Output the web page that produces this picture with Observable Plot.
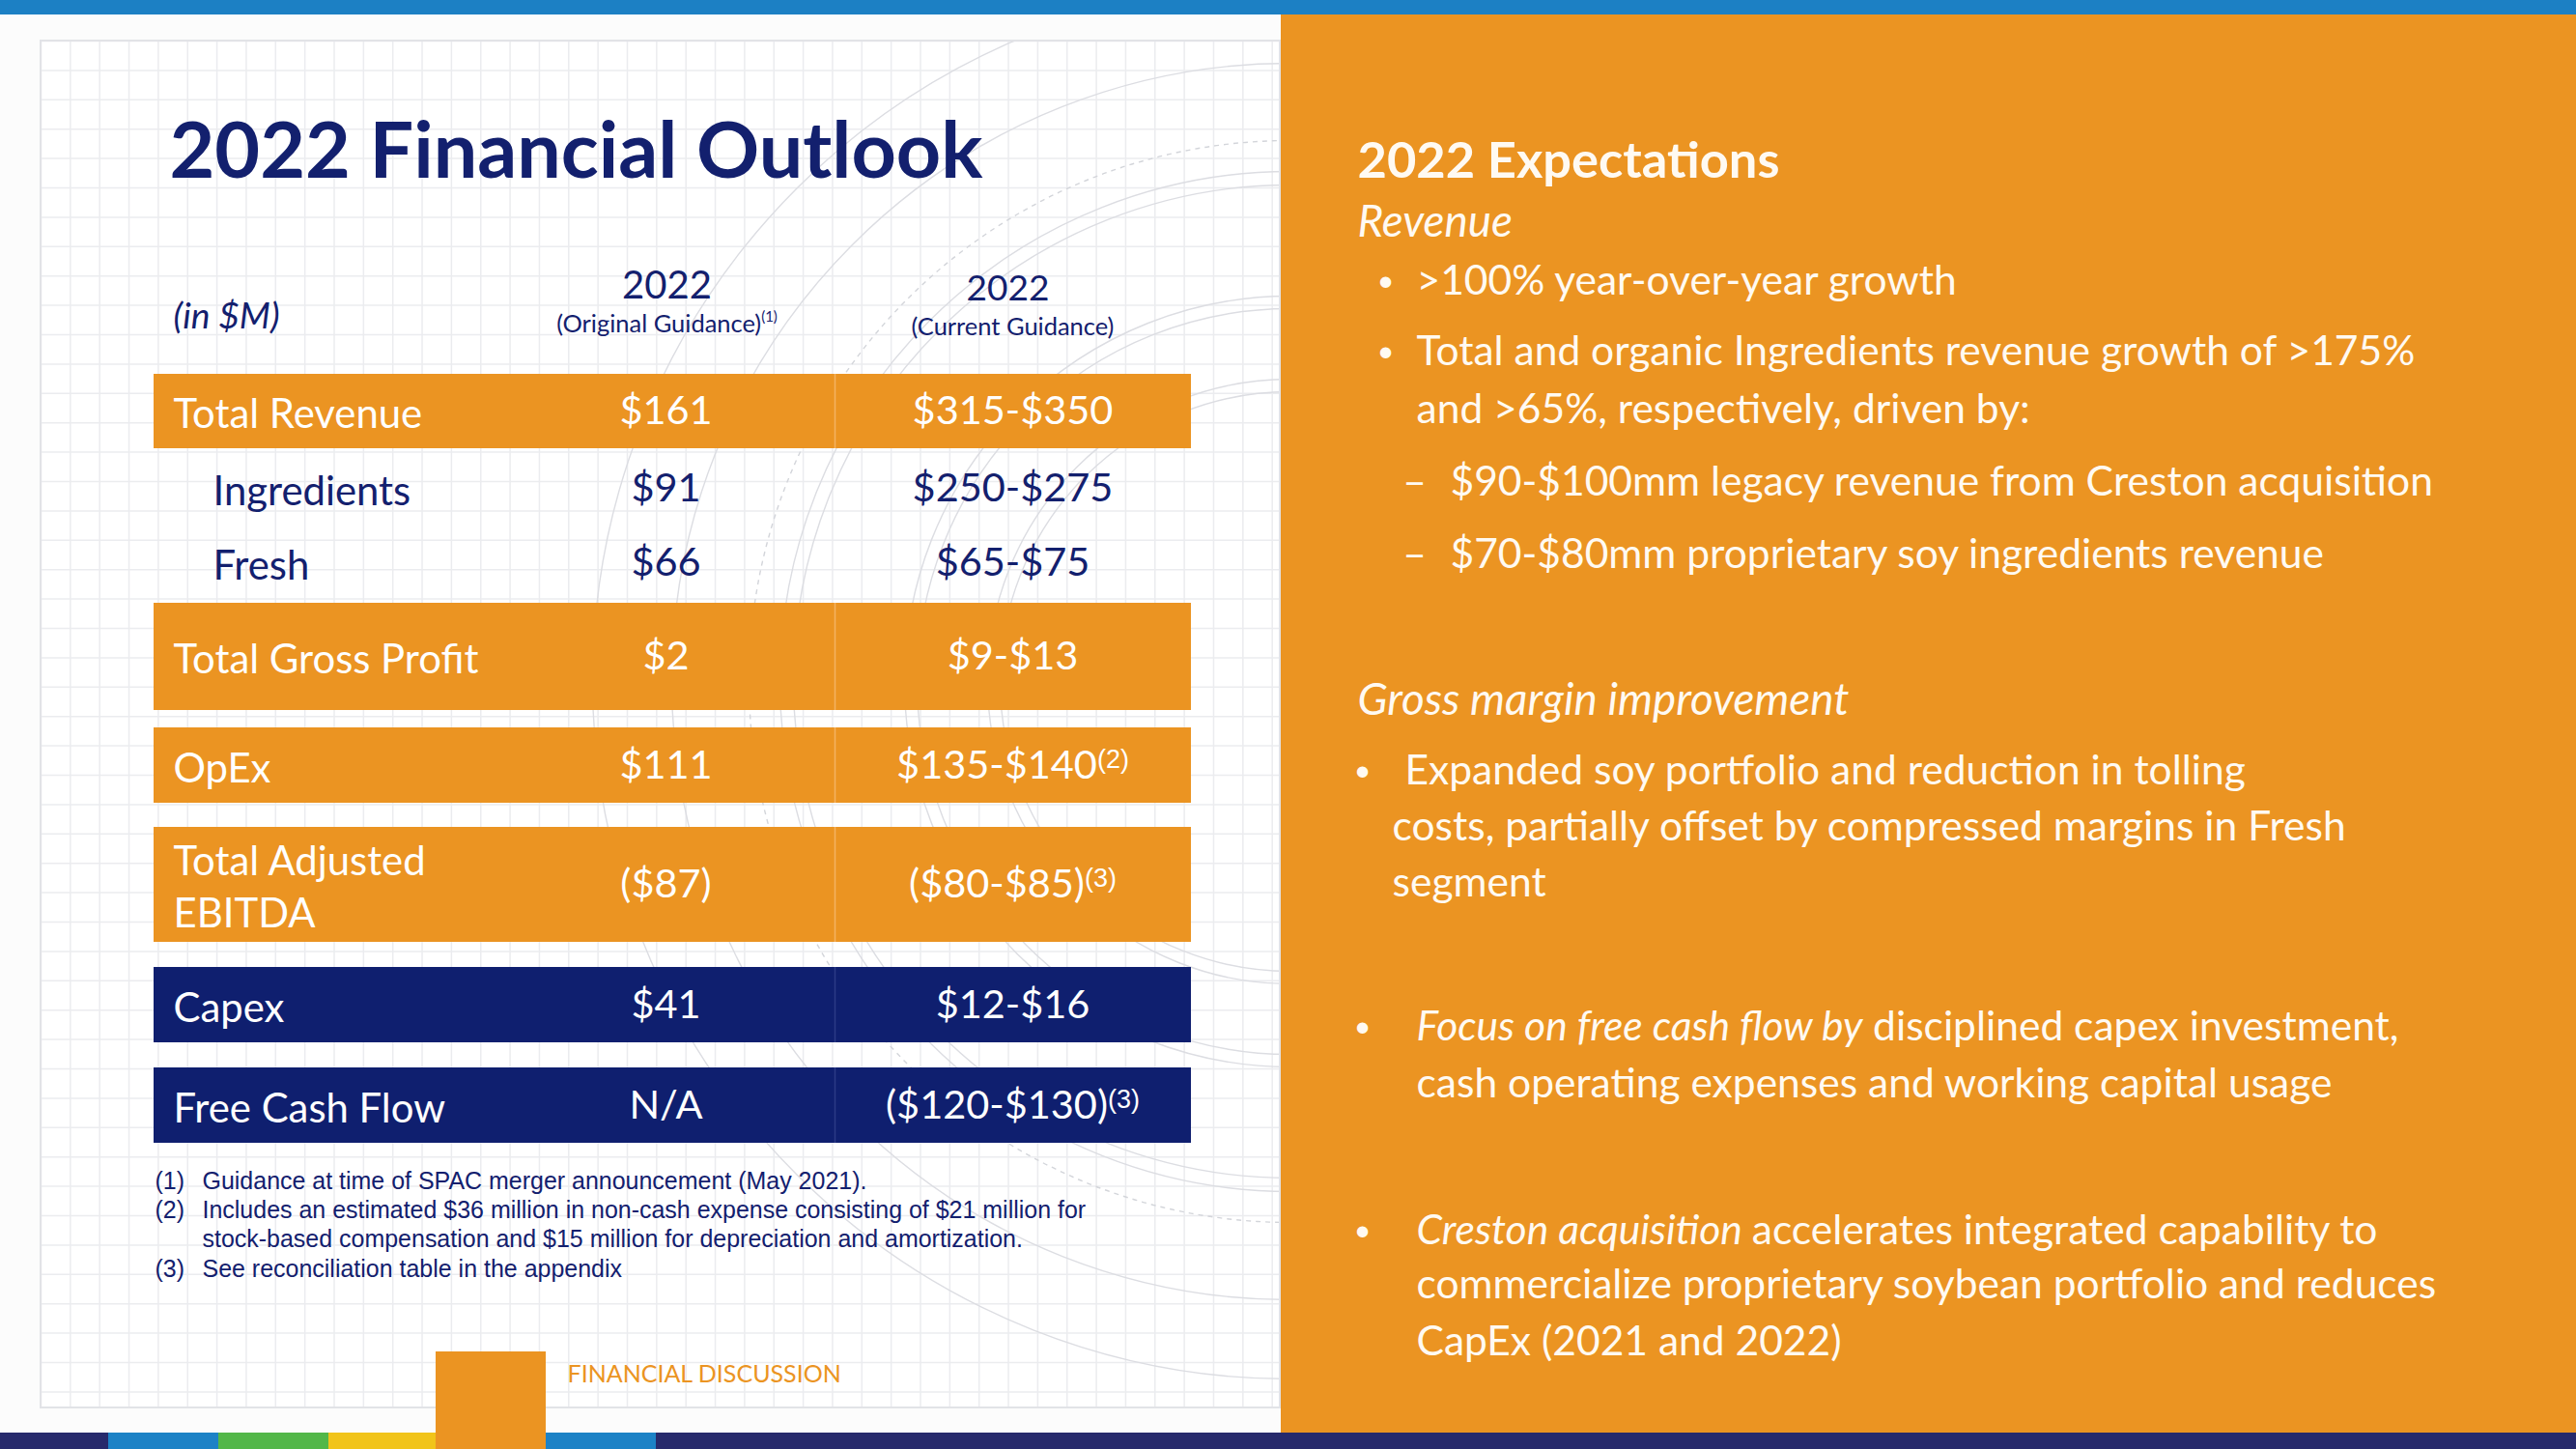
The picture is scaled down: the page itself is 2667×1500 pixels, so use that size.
<!DOCTYPE html>
<html>
<head>
<meta charset="utf-8">
<script src="https://cdn.jsdelivr.net/npm/d3@7"></script>
<script src="https://cdn.jsdelivr.net/npm/@observablehq/plot@0.6"></script>
<style>
html, body { margin: 0; padding: 0; background: #ffffff; }
svg { display: block; }
</style>
</head>
<body>
<script>
// ================= DATA =================
const title = "2022 Financial Outlook";
const unitLabel = "(in $M)";
const columnYears = ["2022", "2022"];
const columnNames = ["(Original Guidance)", "(Current Guidance)"];
const columnNotes = ["(1)", ""];
const rowLabels = ["Total Revenue", "Ingredients", "Fresh", "Total Gross Profit", "OpEx", "Total Adjusted\nEBITDA", "Capex", "Free Cash Flow"];
const rowKinds = ["orange", "plain", "plain", "orange", "orange", "orange", "navy", "navy"];
const originalGuidance = ["$161", "$91", "$66", "$2", "$111", "($87)", "$41", "N/A"];
const currentGuidance = ["$315-$350", "$250-$275", "$65-$75", "$9-$13", "$135-$140", "($80-$85)", "$12-$16", "($120-$130)"];
const currentNotes = ["", "", "", "", "(2)", "(3)", "", "(3)"];
const footnoteMarks = ["(1)", "(2)", "", "(3)"];
const footnoteLines = [
  "Guidance at time of SPAC merger announcement (May 2021).",
  "Includes an estimated $36 million in non-cash expense consisting of $21 million for",
  "stock-based compensation and $15 million for depreciation and amortization.",
  "See reconciliation table in the appendix"
];
const sectionTag = "FINANCIAL DISCUSSION";
const panelTitle = "2022 Expectations";
const expMarkers = ["", "•", "•", "", "–", "–", "", "•", "", "", "•", "", "•", "", ""];
const expItalic = ["Revenue", "", "", "", "", "", "Gross margin improvement", "", "", "", "Focus on free cash flow by", "", "Creston acquisition", "", ""];
const expText = [
  "", ">100% year-over-year growth",
  "Total and organic Ingredients revenue growth of >175%",
  "and >65%, respectively, driven by:",
  "$90-$100mm legacy revenue from Creston acquisition",
  "$70-$80mm proprietary soy ingredients revenue",
  "", "Expanded soy portfolio and reduction in tolling",
  "costs, partially offset by compressed margins in Fresh",
  "segment",
  "disciplined capex investment,",
  "cash operating expenses and working capital usage",
  "accelerates integrated capability to",
  "commercialize proprietary soybean portfolio and reduces",
  "CapEx (2021 and 2022)"
];
const stripColors = ["#272a6c", "#1c82c6", "#52b748", "#f1c41a", "#eb9422", "#1c82c6", "#272a6c"];

// ================= LAYOUT & STYLE =================
const W = 2667, H = 1500;
const ORANGE = "#eb9422", NAVY = "#0f1f6f", INK = "#13206e", CREAM = "#fffaf2";
const F = "Lato, 'Noto Sans', sans-serif";
const FN = "'Liberation Sans', Arial, sans-serif";
const rowTop =    [387, null, null, 624, 753, 856, 1001, 1105];
const rowBottom = [464, null, null, 735, 831, 975, 1079, 1183];
const rowY =      [425, 505, 582, 679, 792, 915, 1040, 1144];
const tableX1 = 159, tableX2 = 1233, colDivX = 864;
const colCenters = [689, 1048];
const yearCenters = [690, 1043], yearY = [296, 299], nameY = [335, 338];
const footY = [1222, 1252, 1282, 1313];
const expY = [230, 291, 364, 424, 499, 574, 725, 798, 856, 914, 1063, 1122, 1274, 1330, 1389];
const expTextX = [1405, 1466, 1466, 1466, 1501, 1501, 1405, 1454, 1441, 1441, 1466, 1466, 1466, 1466, 1466];
const expMarkX = [0, 1434, 1434, 0, 1464, 1464, 0, 1410, 0, 0, 1410, 0, 1410, 0, 0];
const stripBreaks = [0, 112, 226, 340, 451, 565, 679, 2667];
const arcCenter = [{x: 1335, y: 705}];
const arcRadii = [300, 313, 386, 399, 514, 528, 640, 722];
const dashedRadii = [560];

// ================= MEASURE =================
const ctx = document.createElement("canvas").getContext("2d");
const measure = (t, font) => { ctx.font = font; return ctx.measureText(t).width; };
const fontStr = (size, {weight = 400, style = "normal", family = F} = {}) => `${style} ${weight} ${size}px ${family}`;
const fit = (t, target, o = {}) => 100 * target / measure(t, fontStr(100, o));

const titleSize = fit(title, 842, {weight: 700});
const headSize = fit(panelTitle, 437, {weight: 700});
const bodySize = fit(expText[2], 1035);
const subheadSize = fit(expItalic[6], 509, {style: "italic"});
const labelSize = fit(rowLabels[3], 316);
const valueSize = fit(currentGuidance[0], 198) * 1.05;
const yearSize = fit(columnYears[0], 86);
const colNameSize = fit(columnNames[1], 210);
const unitSize = fit(unitLabel, 110, {style: "italic"});
const noteSize = fit(footnoteLines[1], 915, {family: FN});
const tagSize = fit(sectionTag, 284);
const supSize = 27, headSupSize = 15;
const bulletSize = bodySize * 0.72;

// ================= MARKS =================
const rows = d3.range(rowLabels.length);
const filledRows = rows.filter(i => rowKinds[i] !== "plain");
const rowFill = {orange: ORANGE, navy: NAVY};
const divColor = {orange: "#f4b362", navy: "#2c3b86"};
const textFill = i => rowKinds[i] === "plain" ? INK : "#ffffff";

const curW = i => measure(currentGuidance[i], fontStr(valueSize));
const supW = i => currentNotes[i] ? measure(currentNotes[i], fontStr(supSize, {family: FN})) : 0;
const curStart = i => colCenters[1] - (curW(i) + supW(i)) / 2;

const cols = [0, 1];
const nameW = j => measure(columnNames[j], fontStr(colNameSize));
const hSupW = j => columnNotes[j] ? measure(columnNotes[j], fontStr(headSupSize)) : 0;
const nameStart = j => yearCenters[j] + (j === 1 ? 5 : 0) - (nameW(j) + hSupW(j)) / 2;

const eIdx = d3.range(expText.length);
const italicBody = fontStr(bodySize, {style: "italic"});

const gridXs = d3.range(42, 1326, 30.35);
const gridYs = d3.range(42, 1458, 30.4);

const plot = Plot.plot({
  width: W, height: H, margin: 0,
  x: {domain: [0, W], range: [0, W], axis: null},
  y: {domain: [0, H], range: [0, H], axis: null},
  color: {type: "identity"},
  style: {background: "#ffffff"},
  marks: [
    // graph-paper background
    Plot.rect([0], {x1: 42, x2: 1325, y1: 42, y2: 1457, fill: "#ffffff"}),
    Plot.ruleX(gridXs, {x: d => d, y1: 42, y2: 1457, stroke: "#ebecef", strokeWidth: 1.5}),
    Plot.ruleY(gridYs, {y: d => d, x1: 42, x2: 1325, stroke: "#ebecef", strokeWidth: 1.5}),
    ...arcRadii.map(r => Plot.dot(arcCenter, {x: "x", y: "y", r, fill: "none", stroke: "#dcdde2", strokeWidth: 1.4})),
    ...dashedRadii.map(r => Plot.dot(arcCenter, {x: "x", y: "y", r, fill: "none", stroke: "#d3d5da", strokeWidth: 1.4, strokeDasharray: "5,5"})),
    // white page margins around the paper
    Plot.rect([0], {x1: 0, x2: 42, y1: 0, y2: H, fill: "#fcfcfc"}),
    Plot.rect([0], {x1: 0, x2: 1326, y1: 0, y2: 42, fill: "#fcfcfc"}),
    Plot.rect([0], {x1: 0, x2: 1326, y1: 1457, y2: H, fill: "#fcfcfc"}),
    Plot.rect([0], {x1: 42, x2: 1325, y1: 42, y2: 1457, fill: "none", stroke: "#e2e3e7", strokeWidth: 2}),

    // title
    Plot.text([title], {x: 175, y: 158, text: d => d, textAnchor: "start", fill: INK, fontSize: titleSize, fontWeight: 700, fontFamily: F}),

    // column headers
    Plot.text([unitLabel], {x: 179, y: 328, text: d => d, textAnchor: "start", fill: INK, fontSize: unitSize, fontStyle: "italic", fontFamily: F}),
    Plot.text(cols, {x: j => yearCenters[j], y: j => yearY[j], text: j => columnYears[j], fill: INK, fontSize: j => j === 0 ? yearSize * 1.08 : yearSize, fontFamily: F}),
    Plot.text(cols, {x: nameStart, y: j => nameY[j], text: j => columnNames[j], textAnchor: "start", fill: INK, fontSize: colNameSize, fontFamily: F}),
    Plot.text(cols.filter(j => columnNotes[j]), {x: j => nameStart(j) + nameW(j), y: j => nameY[j] - 7, text: j => columnNotes[j], textAnchor: "start", fill: INK, fontSize: headSupSize, fontFamily: F}),

    // table rows
    Plot.rect(filledRows, {x1: tableX1, x2: tableX2, y1: i => rowTop[i], y2: i => rowBottom[i], fill: i => rowFill[rowKinds[i]]}),
    Plot.ruleX(filledRows, {x: colDivX, y1: i => rowTop[i], y2: i => rowBottom[i], stroke: i => divColor[rowKinds[i]], strokeWidth: 1.5}),
    Plot.text(rows, {x: i => rowKinds[i] === "plain" ? 220 : 179, y: i => rowY[i], text: i => rowLabels[i], textAnchor: "start", lineHeight: 1.3, fill: textFill, fontSize: labelSize, fontFamily: F}),
    Plot.text(rows, {x: colCenters[0], y: i => rowY[i], text: i => originalGuidance[i], fill: textFill, fontSize: valueSize, fontFamily: F}),
    Plot.text(rows, {x: curStart, y: i => rowY[i], text: i => currentGuidance[i], textAnchor: "start", fill: textFill, fontSize: valueSize, fontFamily: F}),
    Plot.text(rows.filter(i => currentNotes[i]), {x: i => curStart(i) + curW(i), y: i => rowY[i] - 6, text: i => currentNotes[i], textAnchor: "start", fill: textFill, fontSize: supSize, fontFamily: FN}),

    // footnotes
    Plot.text(d3.range(footnoteMarks.length).filter(i => footnoteMarks[i]), {x: 160, y: i => footY[i], text: i => footnoteMarks[i], textAnchor: "start", fill: INK, fontSize: noteSize, fontFamily: FN}),
    Plot.text(d3.range(footnoteLines.length), {x: 209, y: i => footY[i], text: i => footnoteLines[i], textAnchor: "start", fill: INK, fontSize: noteSize, fontFamily: FN}),

    // right panel
    Plot.rect([0], {x1: 1326, x2: W, y1: 0, y2: 1483, fill: ORANGE}),
    Plot.text([panelTitle], {x: 1405, y: 167, text: d => d, textAnchor: "start", fill: CREAM, fontSize: headSize, fontWeight: 700, fontFamily: F}),
    Plot.text(eIdx.filter(i => expItalic[i]), {x: i => expTextX[i], y: i => expY[i], text: i => expItalic[i], textAnchor: "start", fill: CREAM, fontStyle: "italic", fontSize: i => expText[i] ? bodySize : subheadSize, fontFamily: F}),
    Plot.text(eIdx.filter(i => expText[i]), {x: i => expTextX[i] + (expItalic[i] ? measure(expItalic[i] + " ", italicBody) : 0), y: i => expY[i], text: i => expText[i], textAnchor: "start", fill: CREAM, fontSize: bodySize, fontFamily: F}),
    Plot.text(eIdx.filter(i => expMarkers[i] === "•"), {x: i => expMarkX[i], y: i => expY[i], text: i => expMarkers[i], fill: CREAM, fontSize: bulletSize, fontFamily: F}),
    Plot.text(eIdx.filter(i => expMarkers[i] === "–"), {x: i => expMarkX[i], y: i => expY[i], text: i => expMarkers[i], fill: CREAM, fontSize: bodySize, fontFamily: F}),

    // top & bottom brand strips
    Plot.rect([0], {x1: 0, x2: W, y1: 0, y2: 15, fill: "#1c80c4"}),
    Plot.rect(d3.range(stripColors.length), {x1: i => stripBreaks[i], x2: i => stripBreaks[i + 1], y1: 1483, y2: H, fill: i => stripColors[i]}),
    Plot.rect([0], {x1: stripBreaks[4], x2: stripBreaks[5], y1: 1399, y2: H, fill: ORANGE}),
    Plot.text([sectionTag], {x: 587, y: 1422, text: d => d, textAnchor: "start", fill: ORANGE, fontSize: tagSize, fontFamily: F})
  ]
});
document.body.appendChild(plot);
</script>
</body>
</html>
